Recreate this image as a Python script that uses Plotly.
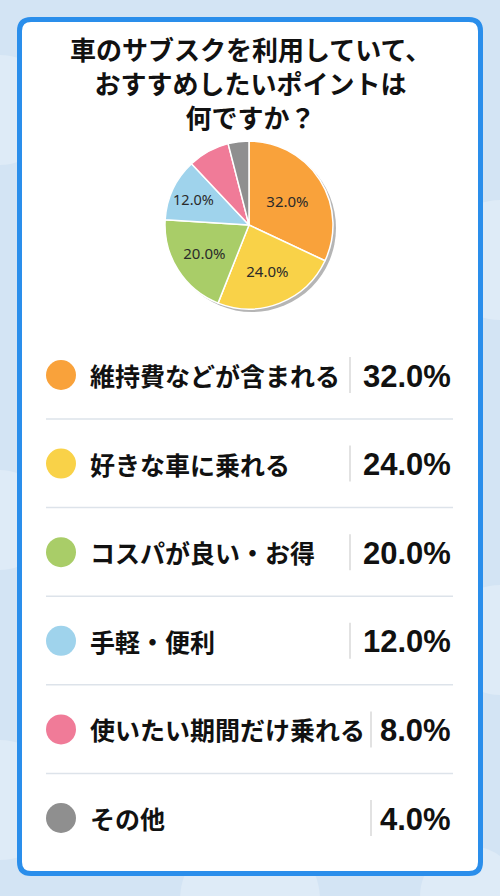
import plotly.graph_objects as go

# Data
labels = ["維持費などが含まれる", "好きな車に乗れる", "コスパが良い・お得", "手軽・便利", "使いたい期間だけ乗れる", "その他"]
values = [32.0, 24.0, 20.0, 12.0, 8.0, 4.0]
colors = ["#f9a23b", "#f9d248", "#a9cd68", "#9fd3ec", "#f07b98", "#8f8f8f"]
title_lines = ["車のサブスクを利用していて、", "おすすめしたいポイントは", "何ですか？"]

W, H = 500, 896
JP = "Noto Sans CJK JP"

fig = go.Figure()

shapes = []
# soft cloud blobs on the background
for bx, by, br in [(0, 110, 55), (500, 260, 60), (0, 520, 50), (500, 640, 55), (0, 800, 60), (470, 896, 50), (250, 900, 70)]:
    shapes.append(dict(type="circle", xref="x", yref="y", layer="below",
                       x0=bx - br, x1=bx + br, y0=by - br, y1=by + br,
                       fillcolor="rgba(255,255,255,0.25)", line=dict(width=0)))

# card
shapes.append(dict(type="path", xref="x", yref="y", layer="below",
                   path="M 31 19.5 L 469 19.5 Q 480.5 19.5 480.5 31 L 480.5 862 Q 480.5 873.5 469 873.5 "
                        "L 31 873.5 Q 19.5 873.5 19.5 862 L 19.5 31 Q 19.5 19.5 31 19.5 Z",
                   fillcolor="white", line=dict(color="#2a8eeb", width=5)))

# pie shadow
cx, cy, r = 249, 225, 84
shapes.append(dict(type="circle", xref="x", yref="y", layer="below",
                   x0=cx - r + 3, x1=cx + r + 3, y0=cy - r + 3, y1=cy + r + 3,
                   fillcolor="#b5b5b5", line=dict(width=0)))

# legend rows
row_y0, row_dy = 375, 88.6
sep_x = [350, 350, 350, 350, 371, 371]
for i in range(len(labels)):
    y = row_y0 + i * row_dy
    shapes.append(dict(type="line", xref="x", yref="y", x0=sep_x[i], x1=sep_x[i],
                       y0=y - 18, y1=y + 18, line=dict(color="#cfcfcf", width=1.2)))
    if i < len(labels) - 1:
        ly = y + 44
        shapes.append(dict(type="line", xref="x", yref="y", x0=46, x1=453,
                           y0=ly, y1=ly, line=dict(color="#dde3ea", width=1.5)))

fig.add_trace(go.Scatter(
    x=[61] * len(labels),
    y=[row_y0 + i * row_dy for i in range(len(labels))],
    mode="markers",
    marker=dict(size=30, color=colors, line=dict(width=0)),
    hoverinfo="skip", showlegend=False,
))

annotations = []
for i, (lab, val) in enumerate(zip(labels, values)):
    y = row_y0 + i * row_dy
    annotations.append(dict(x=88, y=y, xref="x", yref="y", text=lab, showarrow=False,
                            xanchor="left", yanchor="middle",
                            font=dict(family=JP, size=25, color="#111", weight="bold")))
    annotations.append(dict(x=453, y=y + 1, xref="x", yref="y", text=f"{val:.1f}%", showarrow=False,
                            xanchor="right", yanchor="middle",
                            font=dict(family="Liberation Sans", size=31, color="#111", weight="bold")))

annotations.append(dict(x=250, y=82, xref="x", yref="y", text="<br>".join(title_lines),
                        showarrow=False, xanchor="center", yanchor="middle",
                        font=dict(family=JP, size=26, color="#111", weight="bold")))

# pie
fig.add_trace(go.Pie(
    values=values, labels=labels, sort=False, direction="clockwise",
    marker=dict(colors=colors, line=dict(color="white", width=1.5)),
    texttemplate=[f"{v:.1f}%" if v >= 10 else "" for v in values],
    textposition="inside", insidetextorientation="horizontal",
    textfont=dict(family="Noto Sans", size=15, color="#2a2a2a"),
    domain=dict(x=[(cx - r) / W, (cx + r) / W], y=[1 - (cy + r) / H, 1 - (cy - r) / H]),
    showlegend=False, hoverinfo="label+percent",
))

fig.update_layout(
    width=W, height=H,
    margin=dict(l=0, r=0, t=0, b=0),
    paper_bgcolor="#d3e4f4", plot_bgcolor="rgba(0,0,0,0)",
    xaxis=dict(range=[0, W], visible=False, fixedrange=True),
    yaxis=dict(range=[H, 0], visible=False, fixedrange=True),
    shapes=shapes, annotations=annotations,
    showlegend=False,
)

fig.write_html("out.html", config=dict(displayModeBar=False),
               post_script="document.body.style.margin='0';")
